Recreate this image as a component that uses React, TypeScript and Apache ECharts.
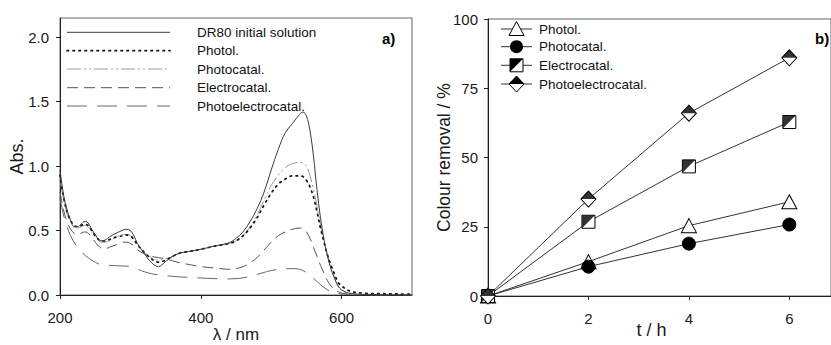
import React, { useEffect, useRef } from "react";
import * as echarts from "echarts";

const FONT = "'Liberation Sans', Arial, Helvetica, sans-serif";

// ---- Panel a) UV-Vis spectra ----
const wavelengths = [200, 205, 210, 215, 220, 225, 230, 235, 240, 245, 250, 255, 260, 265, 270, 280, 290, 295, 300, 305, 310, 320, 330, 340, 350, 360, 370, 380, 400, 420, 440, 450, 460, 470, 480, 490, 500, 510, 520, 530, 540, 545, 550, 555, 560, 565, 570, 575, 580, 585, 590, 595, 600, 610, 620, 640, 660, 680, 700];
const dr80Initial = [0.97, 0.78, 0.66, 0.58, 0.53, 0.53, 0.55, 0.57, 0.56, 0.51, 0.47, 0.43, 0.42, 0.43, 0.45, 0.48, 0.505, 0.51, 0.5, 0.46, 0.4, 0.32, 0.25, 0.22, 0.26, 0.3, 0.325, 0.335, 0.355, 0.38, 0.405, 0.44, 0.49, 0.57, 0.67, 0.8, 0.97, 1.13, 1.26, 1.33, 1.4, 1.42, 1.39, 1.28, 1.08, 0.82, 0.6, 0.43, 0.3, 0.2, 0.13, 0.07, 0.04, 0.015, 0.008, 0.004, 0.002, 0.001, 0.001];
const photolSpec = [0.93, 0.76, 0.65, 0.58, 0.54, 0.53, 0.54, 0.55, 0.54, 0.5, 0.46, 0.43, 0.42, 0.42, 0.43, 0.45, 0.46, 0.465, 0.46, 0.43, 0.39, 0.33, 0.28, 0.255, 0.27, 0.3, 0.325, 0.335, 0.355, 0.38, 0.4, 0.42, 0.46, 0.52, 0.6, 0.7, 0.79, 0.86, 0.9, 0.925, 0.925, 0.92, 0.89, 0.84, 0.76, 0.65, 0.52, 0.41, 0.31, 0.23, 0.16, 0.1, 0.07, 0.035, 0.02, 0.012, 0.01, 0.008, 0.007];
const photocatalSpec = [0.9, 0.74, 0.63, 0.57, 0.53, 0.52, 0.53, 0.54, 0.53, 0.49, 0.45, 0.42, 0.41, 0.41, 0.42, 0.45, 0.47, 0.47, 0.46, 0.43, 0.39, 0.33, 0.29, 0.27, 0.28, 0.3, 0.325, 0.335, 0.355, 0.38, 0.4, 0.42, 0.46, 0.53, 0.62, 0.74, 0.85, 0.93, 0.99, 1.02, 1.03, 1.025, 1.0, 0.93, 0.82, 0.69, 0.55, 0.42, 0.31, 0.21, 0.13, 0.07, 0.035, 0.012, 0.006, 0.003, 0.002, 0.002, 0.002];
const electrocatalSpec = [0.8, 0.66, 0.57, 0.51, 0.48, 0.47, 0.48, 0.49, 0.48, 0.45, 0.41, 0.38, 0.36, 0.36, 0.37, 0.39, 0.41, 0.41, 0.4, 0.38, 0.35, 0.32, 0.3, 0.29, 0.28, 0.265, 0.25, 0.24, 0.22, 0.21, 0.2, 0.205, 0.22, 0.25, 0.29, 0.35, 0.41, 0.46, 0.49, 0.51, 0.52, 0.515, 0.49, 0.44, 0.37, 0.3, 0.23, 0.17, 0.11, 0.07, 0.04, 0.025, 0.015, 0.006, 0.003, 0.001, 0.001, 0.001, 0.001];
const photoelectroSpec = [0.75, 0.62, 0.53, 0.46, 0.41, 0.37, 0.34, 0.31, 0.29, 0.27, 0.255, 0.24, 0.235, 0.23, 0.23, 0.227, 0.225, 0.224, 0.22, 0.21, 0.2, 0.18, 0.165, 0.155, 0.15, 0.145, 0.14, 0.138, 0.132, 0.127, 0.125, 0.127, 0.133, 0.145, 0.16, 0.175, 0.19, 0.198, 0.203, 0.205, 0.2, 0.19, 0.175, 0.155, 0.13, 0.105, 0.08, 0.058, 0.04, 0.027, 0.018, 0.012, 0.008, 0.004, 0.002, 0.002, 0.001, 0.001, 0.001];
const wlTicks = [200, 400, 600];
const absTicks = [0, 0.5, 1.0, 1.5, 2.0];
const specNames = ["DR80 initial solution", "Photol.", "Photocatal.", "Electrocatal.", "Photoelectrocatal."];

// ---- Panel b) colour removal ----
const times = [0, 2, 4, 6];
const photolRemoval = [0, 12.4, 25.4, 34];
const photocatalRemoval = [0, 10.6, 18.9, 25.8];
const electrocatalRemoval = [0, 26.8, 46.8, 62.8];
const photoelectroRemoval = [0, 35, 66, 86];
const timeTicks = [0, 2, 4, 6];
const removalTicks = [0, 25, 50, 75, 100];
const removalNames = ["Photol.", "Photocatal.", "Electrocatal.", "Photoelectrocatal."];

const specStyles = [
  { color: "#3a3a3a", width: 1, type: "solid" as any },
  { color: "#111", width: 1.7, type: [1.5, 4.5] as any, cap: "round" },
  { color: "#9a9a9a", width: 1, type: [14, 3, 2, 3, 2, 3] as any },
  { color: "#555", width: 1, type: [11, 6] as any },
  { color: "#666", width: 1, type: [20, 10] as any },
];

export default function App() {
  const ref = useRef<HTMLDivElement>(null);
  useEffect(() => {
    const chart = echarts.init(ref.current!, null, { renderer: "svg" });
    const specData = [dr80Initial, photolSpec, photocatalSpec, electrocatalSpec, photoelectroSpec];
    const remData = [photolRemoval, photocatalRemoval, electrocatalRemoval, photoelectroRemoval];

    const axisCommon = {
      axisLine: { lineStyle: { color: "#222", width: 1 } },
      axisTick: { length: 4, lineStyle: { color: "#222" } },
      splitLine: { show: false },
      nameMoveOverlap: false,
    };
    const labelCommon = { fontSize: 15, color: "#1a1a1a", fontFamily: FONT, fontWeight: "normal" };
    const nameCommon = { color: "#1a1a1a", fontFamily: FONT, fontWeight: "normal" };

    const series: any[] = [];
    specData.forEach((vals, i) => {
      series.push({
        type: "line",
        name: specNames[i],
        xAxisIndex: 0,
        yAxisIndex: 0,
        data: wavelengths.map((w, k) => [w, vals[k]]),
        symbol: "none",
        smooth: 0.35,
        lineStyle: specStyles[i],
        z: 5 - i,
      });
    });

    const lineRem = { color: "#333", width: 1 };
    const pts = (arr: number[]) => times.map((t, k) => [t, arr[k]]);
    series.push({
      type: "line", name: removalNames[0], xAxisIndex: 1, yAxisIndex: 1, z: 2,
      data: pts(remData[0]), symbol: "triangle", symbolSize: [15, 14], showAllSymbol: true,
      lineStyle: lineRem, itemStyle: { color: "#fff", borderColor: "#000", borderWidth: 1 },
    });
    series.push({
      type: "line", name: removalNames[1], xAxisIndex: 1, yAxisIndex: 1, z: 3,
      data: pts(remData[1]), symbol: "circle", symbolSize: 13, showAllSymbol: true,
      lineStyle: lineRem, itemStyle: { color: "#000", borderColor: "#000", borderWidth: 1 },
    });
    series.push({
      type: "line", name: removalNames[2], xAxisIndex: 1, yAxisIndex: 1, z: 4,
      data: pts(remData[2]), symbol: "rect", symbolSize: 13, showAllSymbol: true,
      lineStyle: lineRem, itemStyle: { color: "#fff", borderColor: "#000", borderWidth: 1 },
    });
    series.push({
      type: "scatter", name: removalNames[2] + " fill", xAxisIndex: 1, yAxisIndex: 1, z: 5,
      data: pts(remData[2]), symbol: "path://M0,0L10,0L0,10Z", symbolSize: 12.5,
      itemStyle: { color: "#000" },
    });
    series.push({
      type: "line", name: removalNames[3], xAxisIndex: 1, yAxisIndex: 1, z: 6,
      data: pts(remData[3]), symbol: "diamond", symbolSize: [15, 16], showAllSymbol: true,
      lineStyle: lineRem, itemStyle: { color: "#fff", borderColor: "#000", borderWidth: 1 },
    });
    series.push({
      type: "scatter", name: removalNames[3] + " fill", xAxisIndex: 1, yAxisIndex: 1, z: 7,
      data: pts(remData[3]), symbol: "path://M0,10L10,0L20,10Z", symbolSize: [15, 8], symbolOffset: [0, -4],
      itemStyle: { color: "#000" },
    });

    // legends drawn as graphics
    const graphic: any[] = [];
    const leftRows = [32.3, 50.7, 69, 87.7, 106];
    specNames.forEach((n, i) => {
      const s = specStyles[i];
      graphic.push({
        type: "line",
        shape: { x1: 67, y1: leftRows[i], x2: 170, y2: leftRows[i] },
        style: { stroke: s.color, lineWidth: s.width, lineDash: Array.isArray(s.type) ? s.type : null, lineCap: (s as any).cap || "butt" },
      });
      graphic.push({
        type: "text", x: 197, y: leftRows[i],
        style: { text: n, fontSize: 13.5, fontFamily: FONT, fill: "#111", verticalAlign: "middle", align: "left" },
      });
    });
    const rightRows = [29, 46.7, 65.3, 84];
    const mx = 516.5;
    removalNames.forEach((n, i) => {
      const y = rightRows[i];
      graphic.push({ type: "line", shape: { x1: 501, y1: y, x2: 532, y2: y }, style: { stroke: "#333", lineWidth: 1 } });
      if (i === 0) {
        graphic.push({ type: "polygon", shape: { points: [[mx - 7.5, y + 6.5], [mx + 7.5, y + 6.5], [mx, y - 7.5]] }, style: { fill: "#fff", stroke: "#000", lineWidth: 1 } });
      } else if (i === 1) {
        graphic.push({ type: "circle", shape: { cx: mx, cy: y, r: 6.5 }, style: { fill: "#000" } });
      } else if (i === 2) {
        graphic.push({ type: "rect", shape: { x: mx - 6.5, y: y - 6.5, width: 13, height: 13 }, style: { fill: "#fff", stroke: "#000", lineWidth: 1 } });
        graphic.push({ type: "polygon", shape: { points: [[mx - 6.5, y - 6.5], [mx + 6.5, y - 6.5], [mx - 6.5, y + 6.5]] }, style: { fill: "#000" } });
      } else {
        graphic.push({ type: "polygon", shape: { points: [[mx - 7.5, y], [mx, y - 8], [mx + 7.5, y], [mx, y + 8]] }, style: { fill: "#fff", stroke: "#000", lineWidth: 1 } });
        graphic.push({ type: "polygon", shape: { points: [[mx - 7.5, y], [mx, y - 8], [mx + 7.5, y]] }, style: { fill: "#000" } });
      }
      graphic.push({
        type: "text", x: 539, y,
        style: { text: n, fontSize: 13.5, fontFamily: FONT, fill: "#111", verticalAlign: "middle", align: "left" },
      });
    });
    graphic.push({ type: "text", x: 382, y: 38, style: { text: "a)", fontSize: 15, fontWeight: "bold", fontFamily: FONT, fill: "#000", verticalAlign: "middle" } });
    graphic.push({ type: "text", x: 815, y: 38, style: { text: "b)", fontSize: 15, fontWeight: "bold", fontFamily: FONT, fill: "#000", verticalAlign: "middle" } });

    const option: any = {
      animation: false,
      backgroundColor: "#fff",
      textStyle: { fontFamily: FONT },
      grid: [
        { left: 60, top: 18, width: 352, height: 277, show: true, borderColor: "#666", borderWidth: 1, backgroundColor: "transparent", containLabel: false, outerBoundsMode: "none" },
        { left: 488, top: 19, width: 343, height: 277, show: true, borderColor: "#666", borderWidth: 1, backgroundColor: "transparent", containLabel: false, outerBoundsMode: "none" },
      ],
      xAxis: [
        {
          type: "value", gridIndex: 0, min: 200, max: 700, interval: 200, ...axisCommon,
          axisTick: { ...axisCommon.axisTick, customValues: wlTicks },
          axisLabel: { ...labelCommon, margin: 15, customValues: wlTicks, formatter: (v: number) => String(v) },
          name: "λ / nm", nameLocation: "middle", nameGap: 31,
          nameTextStyle: { ...nameCommon, fontSize: 17 },
        },
        {
          type: "value", gridIndex: 1, min: 0, max: 6.83, interval: 2, ...axisCommon,
          axisTick: { ...axisCommon.axisTick, customValues: timeTicks },
          axisLabel: { ...labelCommon, margin: 15, customValues: timeTicks, formatter: (v: number) => String(v) },
          name: "t / h", nameLocation: "middle", nameGap: 25,
          nameTextStyle: { ...nameCommon, fontSize: 18, padding: [0, 16, 0, 0] },
        },
      ],
      yAxis: [
        {
          type: "value", gridIndex: 0, min: 0, max: 2.15, interval: 0.5, ...axisCommon,
          axisTick: { ...axisCommon.axisTick, customValues: absTicks },
          axisLabel: { ...labelCommon, margin: 11, customValues: absTicks, formatter: (v: number) => v.toFixed(1) },
          name: "Abs.", nameLocation: "middle", nameGap: 34,
          nameTextStyle: { ...nameCommon, fontSize: 18 },
        },
        {
          type: "value", gridIndex: 1, min: 0, max: 100, interval: 25, ...axisCommon,
          axisTick: { ...axisCommon.axisTick, customValues: removalTicks },
          axisLabel: { ...labelCommon, margin: 10, customValues: removalTicks, formatter: (v: number) => String(v) },
          name: "Colour removal / %", nameLocation: "middle", nameGap: 35,
          nameTextStyle: { ...nameCommon, fontSize: 17.5 },
        },
      ],
      series,
      graphic,
    };
    chart.setOption(option);
    return () => chart.dispose();
  }, []);
  return <div ref={ref} style={{ position: "absolute", left: 0, top: 0, width: 831, height: 345 }} />;
}
